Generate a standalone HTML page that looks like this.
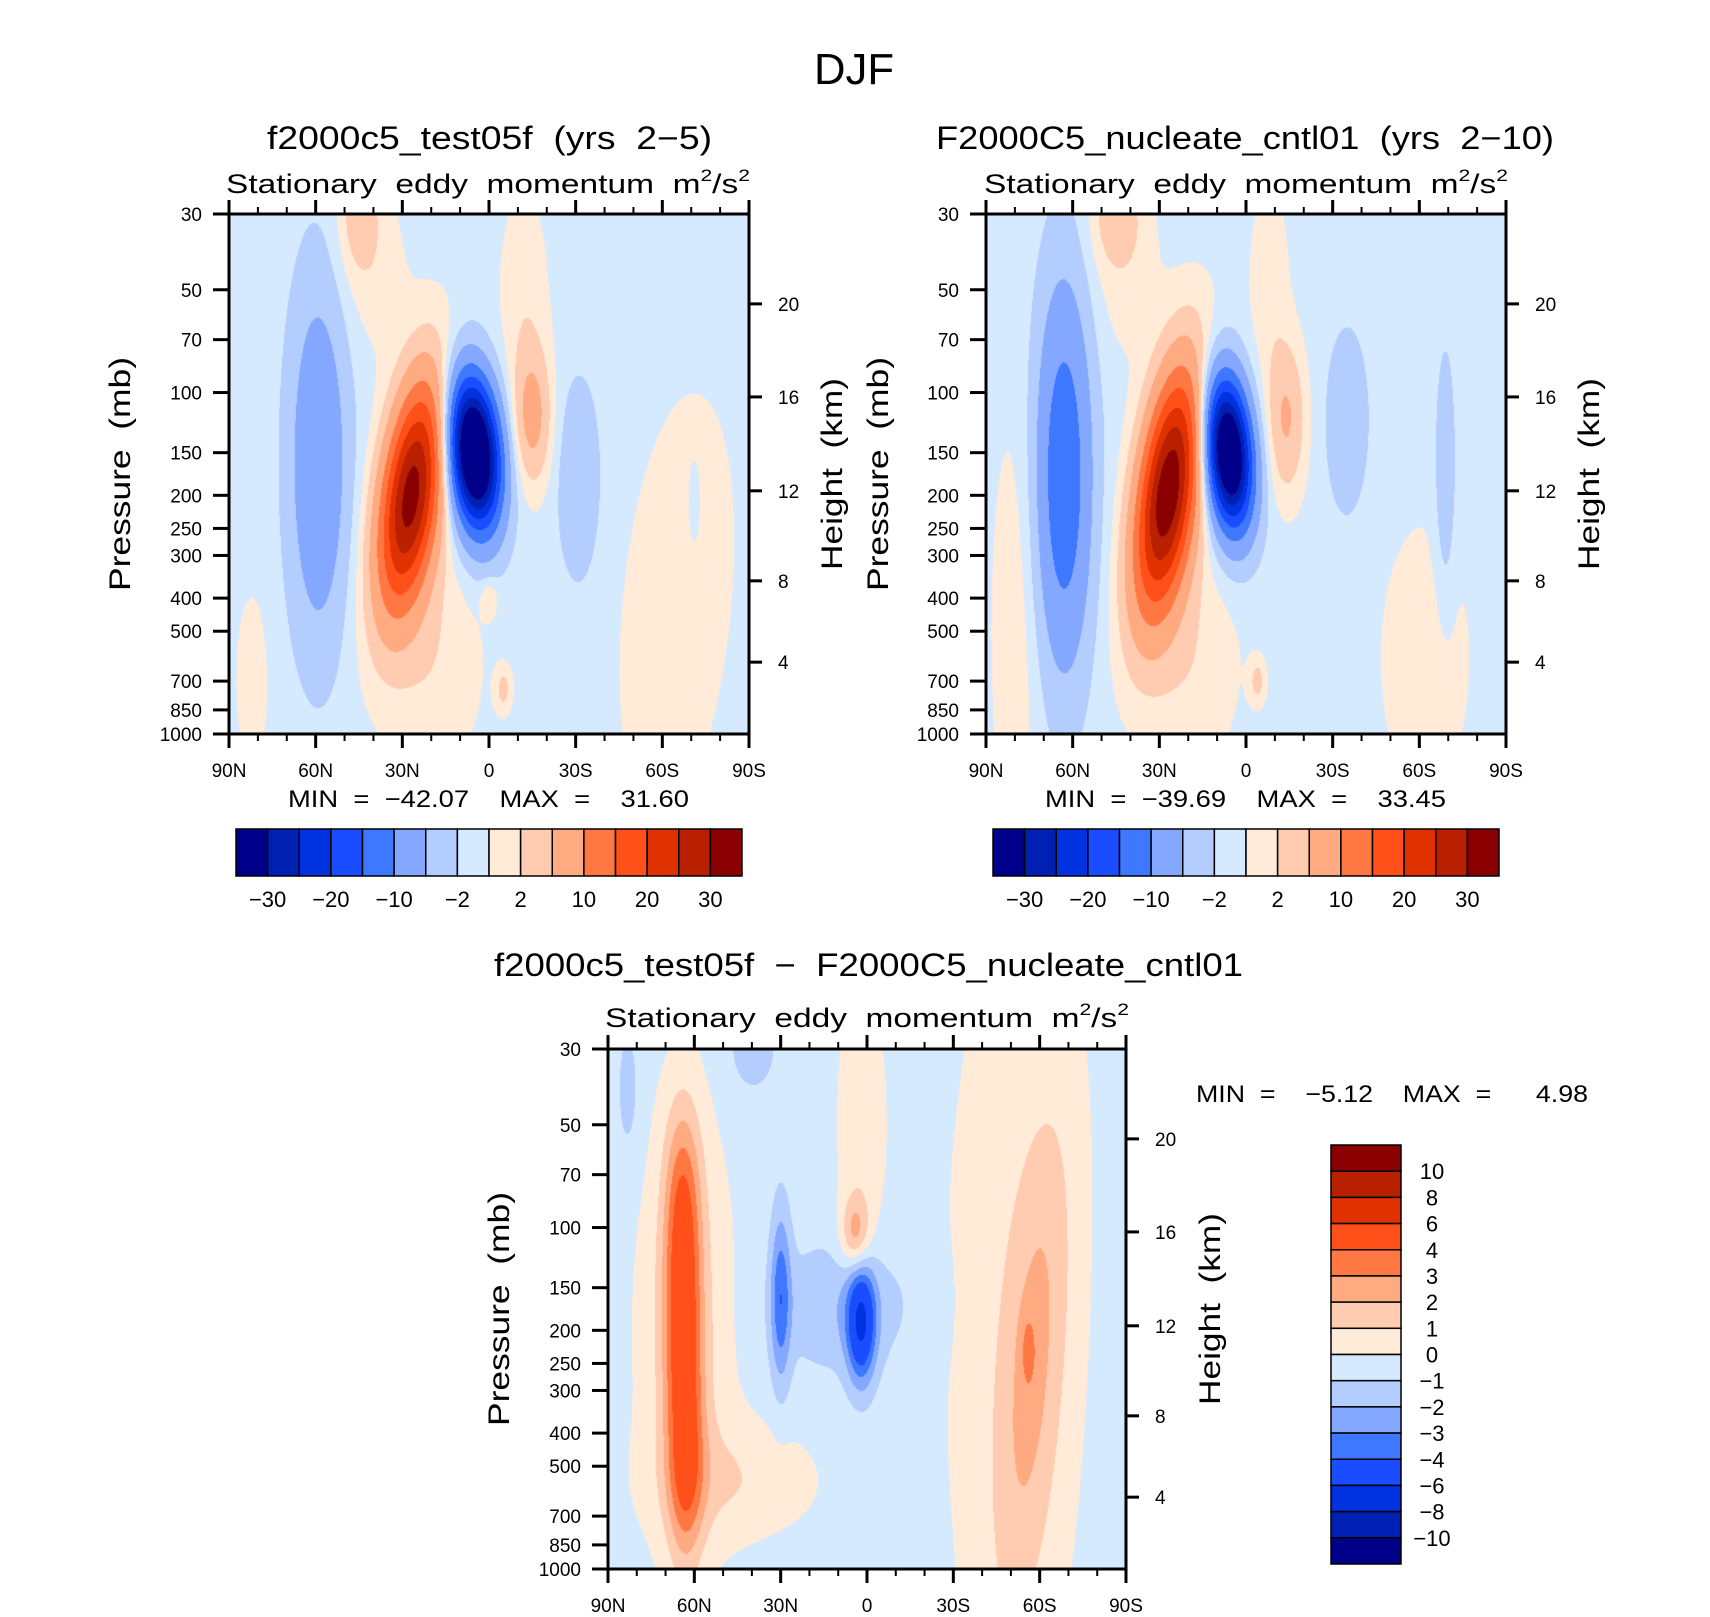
<!DOCTYPE html>
<html>
<head>
<meta charset="utf-8">
<style>
html,body{margin:0;padding:0;background:#fff;}
#root{position:relative;width:1710px;height:1617px;overflow:hidden;background:#fff;}
canvas{position:absolute;}
svg{position:absolute;left:0;top:0;}
text{font-family:"Liberation Sans",sans-serif;fill:#000;white-space:pre;}
</style>
</head>
<body>
<div id="root">
<canvas id="c1" width="520" height="520" style="left:229px;top:214px;width:520px;height:520px"></canvas>
<canvas id="c2" width="520" height="520" style="left:986px;top:214px;width:520px;height:520px"></canvas>
<canvas id="c3" width="518" height="520" style="left:608px;top:1049px;width:518px;height:520px"></canvas>
<svg id="ov" width="1710" height="1617">
<text x="854" y="84" font-size="44" text-anchor="middle" textLength="80" lengthAdjust="spacingAndGlyphs">DJF</text>
<text x="267" y="149" font-size="32" textLength="445" lengthAdjust="spacingAndGlyphs">f2000c5_test05f  (yrs  2−5)</text>
<text x="936" y="149" font-size="32" textLength="618" lengthAdjust="spacingAndGlyphs">F2000C5_nucleate_cntl01  (yrs  2−10)</text>
<text x="226" y="193" font-size="27" textLength="524" lengthAdjust="spacingAndGlyphs">Stationary  eddy  momentum  m<tspan font-size="17" dy="-12">2</tspan><tspan dy="12">/s</tspan><tspan font-size="17" dy="-12">2</tspan></text>
<text x="984" y="193" font-size="27" textLength="524" lengthAdjust="spacingAndGlyphs">Stationary  eddy  momentum  m<tspan font-size="17" dy="-12">2</tspan><tspan dy="12">/s</tspan><tspan font-size="17" dy="-12">2</tspan></text>
<text x="494" y="976" font-size="32" textLength="749" lengthAdjust="spacingAndGlyphs">f2000c5_test05f  −  F2000C5_nucleate_cntl01</text>
<text x="605" y="1027" font-size="27" textLength="524" lengthAdjust="spacingAndGlyphs">Stationary  eddy  momentum  m<tspan font-size="17" dy="-12">2</tspan><tspan dy="12">/s</tspan><tspan font-size="17" dy="-12">2</tspan></text>
<text x="288" y="807" font-size="24" textLength="401" lengthAdjust="spacingAndGlyphs">MIN  =  −42.07    MAX  =    31.60</text>
<text x="1045" y="807" font-size="24" textLength="401" lengthAdjust="spacingAndGlyphs">MIN  =  −39.69    MAX  =    33.45</text>
<text x="1196" y="1102" font-size="24" textLength="392" lengthAdjust="spacingAndGlyphs">MIN  =    −5.12    MAX  =      4.98</text>
<g id="axes"></g>
</svg>
</div>
<script>
// ---------- data ----------
const levelsTop = [-30,-25,-20,-15,-10,-5,-2,0,2,5,10,15,20,25,30];
const levelsTopLabels = ['−30','−20','−10','−2','2','10','20','30'];
const levelsDiff = [-10,-8,-6,-4,-3,-2,-1,0,1,2,3,4,6,8,10];
const levelsDiffLabels = ['−10','−8','−6','−4','−3','−2','−1','0','1','2','3','4','6','8','10'];
const colors = ['#00008a','#0020b4','#0032e0','#1a4dff','#3d78ff','#84a8ff','#b3cdff','#d6eaff',
                '#ffebd8','#ffcbb1','#ffaa80','#ff7844','#ff5019','#e03200','#b82000','#8a0000'];
const presTicks = [30,50,70,100,150,200,250,300,400,500,700,850,1000];
const latTicks = [90,60,30,0,-30,-60,-90];
const latTickLabels = ['90N','60N','30N','0','30S','60S','90S'];
const heightTicks = [4,8,12,16,20];
const heightTickPres = [616,356,194,103,55];

// panel 1: f2000c5_test05f  (lat, pressure mb, amplitude, lat width deg, log-p width, tilt)
const p1Bg = -0.8;
const p1Lat  = [5,   27,  59,   -15, -31, -65, 45, -12, 20, 82, -5,  0,  -71, 40];
const p1Lev  = [150, 200, 160,  118, 180, 420, 30, 55,  600,700,740, 400, 220, 45];
const p1Amp  = [-44, 33,  -8.5, 7,   -4,  2.3, 4,  2.2, 2.5,2,  3.5, 3,  -2,  1.6];
const p1SLat = [6,   7,   7,    4.5, 5,   13,  5,  6,   12, 4,  2,   2,  1.5, 9];
const p1SLev = [0.10,0.15,0.24, 0.09,0.13,0.28,0.08,0.15,0.15,0.12,0.03,0.025,0.06,0.12];
const p1Tilt = [-12, 22,  0,    0,   0,   15,  0,  0,   0,  0,  0,   0,  0,   0];

// panel 2: F2000C5_nucleate_cntl01
const p2Bg = -0.8;
const p2Lat  = [6,   27,  63,  -14, -35, -69, 45, -62, 20,  80, -8,  -4,  42];
const p2Lev  = [150, 195, 175, 120, 122, 180, 30, 600, 600, 500, 50,  700, 45];
const p2Amp  = [-41, 35,  -13.5,6,  -3.8,-3.5,4,  1.8, 2.5, 2,   2,   3.5, 1.6];
const p2SLat = [5.5, 7,   6.5, 4.5, 5,   2.5, 6,  12,  12,  6,   5,   2,   9];
const p2SLev = [0.10,0.16,0.25,0.10,0.12,0.17,0.07,0.2,0.15,0.3, 0.15,0.03,0.12];
const p2Tilt = [-12, 22,  0,   0,   0,   0,   0,  0,   0,   0,   0,   0,   0];

// panel 3: difference
const p3Bg = -0.45;
const p3Lat  = [64,  64,  63,  63,  2,   30,  8,   4,   2,   -58, -50, -56, 45,  40,  83];
const p3Lev  = [86,  206, 500, 200, 190, 160, 170, 105, 50,  250, 200, 230, 550, 30,  40];
const p3Amp  = [3.5, 3.5, 3.5, 1.5, -5.2,-3,  -1.4,2.8, 1.2, 2.0, 1.0, 1.2, 1.2, -1.2,-1.0];
const p3SLat = [4.5, 4.5, 4.5, 12,  3.5, 2.5, 17,  3.5, 6,   8,   18,  1.8, 20,  6,   3];
const p3SLev = [0.14,0.14,0.14,0.3, 0.08,0.12,0.09,0.05,0.2, 0.35,0.6, 0.05,0.08,0.06,0.1];
const p3Tilt = [0,   0,   0,   0,   0,   0,   0,   0,   0,   14,  0,   0,   0,   0,   0];

// ---------- axis functions ----------
function yFrac(p){ return Math.log(p/30)/Math.log(1000/30); }
function xFrac(lat){ return (90-lat)/180; }

function fieldValue(lat, f, bg, la, lv, am, sl, sv, ti){
  let v = bg;
  for (let k=0;k<la.length;k++){
    const cy = yFrac(lv[k]);
    const dy = f - cy;
    const cl = la[k] + ti[k]*dy;
    const dx = lat - cl;
    v += am[k]*Math.exp(-(dx*dx/(2*sl[k]*sl[k]) + dy*dy/(2*sv[k]*sv[k])));
  }
  return v;
}
function band(v, lev){ let i=0; while(i<lev.length && v>=lev[i]) i++; return i; }
function hex(c){ return [parseInt(c.substr(1,2),16),parseInt(c.substr(3,2),16),parseInt(c.substr(5,2),16)]; }
const rgb = colors.map(hex);

function drawField(id, bg, la, lv, am, sl, sv, ti, lev){
  const cv = document.getElementById(id);
  const W = cv.width, H = cv.height;
  const ctx = cv.getContext('2d');
  const img = ctx.createImageData(W,H);
  for (let j=0;j<H;j++){
    const f = (j+0.5)/H;
    for (let i=0;i<W;i++){
      const lat = 90 - (i+0.5)/W*180;
      const c = rgb[band(fieldValue(lat,f,bg,la,lv,am,sl,sv,ti), lev)];
      const o = (j*W+i)*4;
      img.data[o]=c[0]; img.data[o+1]=c[1]; img.data[o+2]=c[2]; img.data[o+3]=255;
    }
  }
  ctx.putImageData(img,0,0);
}
drawField('c1', p1Bg, p1Lat, p1Lev, p1Amp, p1SLat, p1SLev, p1Tilt, levelsTop);
drawField('c2', p2Bg, p2Lat, p2Lev, p2Amp, p2SLat, p2SLev, p2Tilt, levelsTop);
drawField('c3', p3Bg, p3Lat, p3Lev, p3Amp, p3SLat, p3SLev, p3Tilt, levelsDiff);

// ---------- axes ----------
const NS='http://www.w3.org/2000/svg';
const g = document.getElementById('axes');
function mk(tag){ const e=document.createElementNS(NS,tag); g.appendChild(e); return e; }
function line(x1,y1,x2,y2,w){
  const e=mk('line');
  e.setAttribute('x1',x1); e.setAttribute('y1',y1); e.setAttribute('x2',x2); e.setAttribute('y2',y2);
  e.setAttribute('stroke','#000'); e.setAttribute('stroke-width',w);
  return e;
}
function txt(x,y,s,size,anchor){
  const e=mk('text');
  e.setAttribute('x',x); e.setAttribute('y',y); e.setAttribute('font-size',size);
  e.setAttribute('text-anchor',anchor); e.textContent=s;
  return e;
}

const panels = [
  {x:229,y:214,w:520,h:520,name:'test05f',pX:120,hX:832},
  {x:986,y:214,w:520,h:520,name:'cntl01',pX:878,hX:1589},
  {x:608,y:1049,w:518,h:520,name:'difference',pX:499,hX:1210}
];
panels.forEach(P=>{
  for (let lat=90; lat>=-90; lat-=10){
    const x = P.x + xFrac(lat)*P.w;
    const major = (lat%30===0);
    const L = major?14:7;
    const t1 = line(x,P.y,x,P.y-L,major?3:2);
    
    
    const t2 = line(x,P.y+P.h,x,P.y+P.h+L,major?3:2);
    
    
  }
  latTicks.forEach((lat,i)=>{
    const x = P.x + xFrac(lat)*P.w;
    const t = txt(x, P.y+P.h+43, latTickLabels[i], 19, 'middle');
    
    
  });
  presTicks.forEach(p=>{
    const y = P.y + yFrac(p)*P.h;
    const t = line(P.x-16,y,P.x,y,3);
    
    
    const l = txt(P.x-27, y+7, String(p), 19, 'end');
    
    
  });
  heightTicks.forEach((h,i)=>{
    const y = P.y + yFrac(heightTickPres[i])*P.h;
    const t = line(P.x+P.w,y,P.x+P.w+13,y,3);
    
    
    const l = txt(P.x+P.w+29, y+7, String(h), 19, 'start');
    
    
  });
  const fr = mk('rect');
  fr.setAttribute('x',P.x); fr.setAttribute('y',P.y); fr.setAttribute('width',P.w); fr.setAttribute('height',P.h);
  fr.setAttribute('fill','none'); fr.setAttribute('stroke','#000'); fr.setAttribute('stroke-width',3);
  
  
  const cyc = P.y + P.h/2;
  const yt = txt(P.pX, cyc, 'Pressure  (mb)', 30, 'middle');
  yt.setAttribute('transform','rotate(-90 '+P.pX+' '+cyc+')');
  yt.setAttribute('dy','10');
  yt.setAttribute('textLength','234');
  yt.setAttribute('lengthAdjust','spacingAndGlyphs');
  
  
  const ht = txt(P.hX, cyc, 'Height  (km)', 30, 'middle');
  ht.setAttribute('transform','rotate(-90 '+P.hX+' '+cyc+')');
  ht.setAttribute('dy','10');
  ht.setAttribute('textLength','192');
  ht.setAttribute('lengthAdjust','spacingAndGlyphs');
  
  
});

// ---------- horizontal colorbars ----------
[236, 993].forEach((x0,pi)=>{
  const bw = 506/16;
  for (let k=0;k<16;k++){
    const r = mk('rect');
    r.setAttribute('x', x0+k*bw); r.setAttribute('y', 829);
    r.setAttribute('width', bw); r.setAttribute('height', 47);
    r.setAttribute('fill', colors[k]); r.setAttribute('stroke','#000'); r.setAttribute('stroke-width',1.5);
    
    
  }
  levelsTopLabels.forEach((s,i)=>{
    const x = x0 + (2*i+1)*bw;
    const t = txt(x, 907, s, 22, 'middle');
    
    
  });
});

// ---------- vertical colorbar ----------
(function(){
  const x0=1331, y0=1145, w=70, bh=419/16;
  for (let k=0;k<16;k++){
    const r = mk('rect');
    r.setAttribute('x', x0); r.setAttribute('y', y0+k*bh);
    r.setAttribute('width', w); r.setAttribute('height', bh);
    r.setAttribute('fill', colors[15-k]); r.setAttribute('stroke','#000'); r.setAttribute('stroke-width',1.5);
    
    
  }
  for (let k=1;k<16;k++){
    const t = txt(1432, y0+k*bh+8, levelsDiffLabels[15-k], 22, 'middle');
    
    
  }
})();
</script>
</body>
</html>
